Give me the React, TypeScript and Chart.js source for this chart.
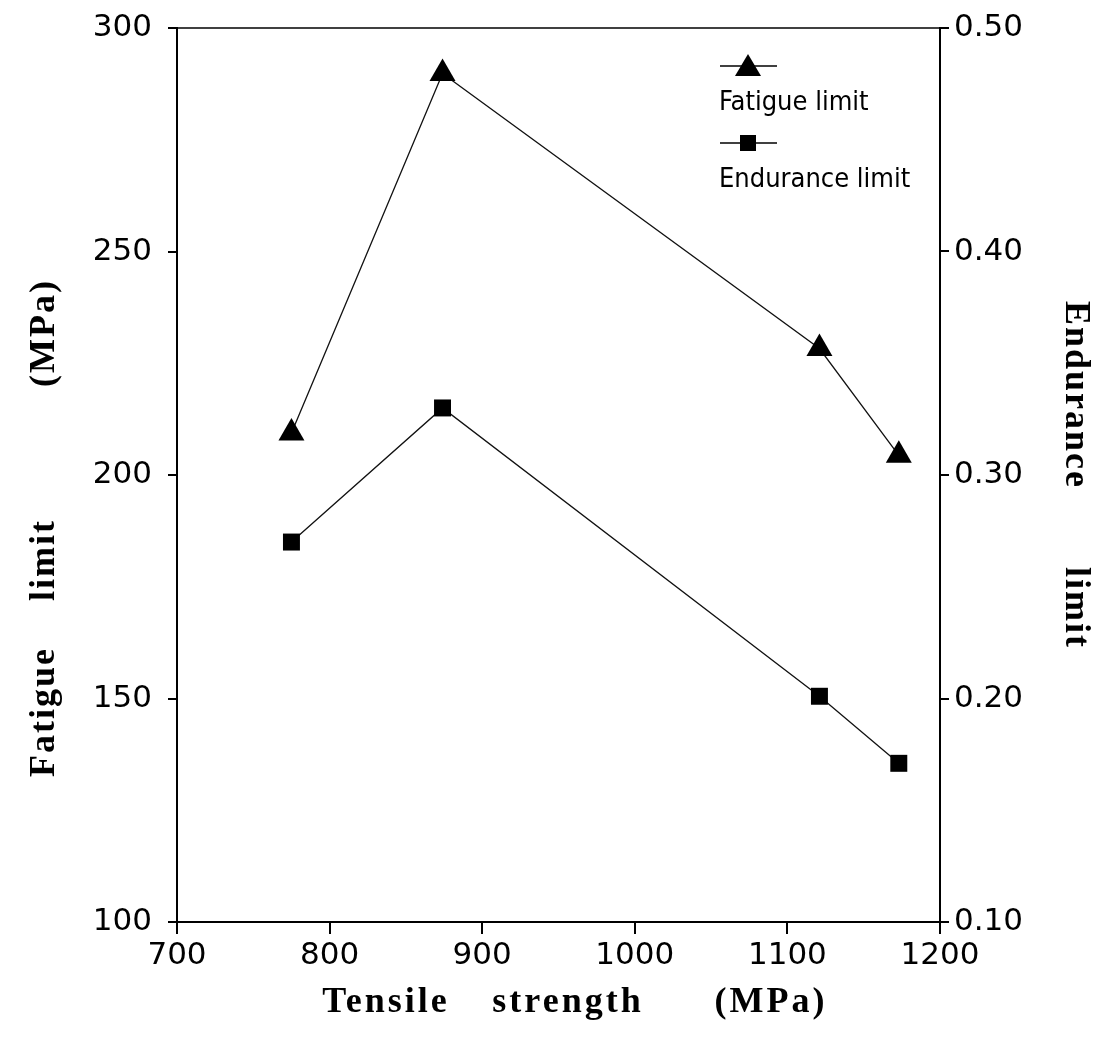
import React, { useEffect, useRef } from "react";
import { Chart, registerables } from "chart.js";

Chart.register(...registerables);

const tensileStrength = [775, 874, 1121, 1173];
const fatigueLimit = [209.4, 289.8, 228.3, 204.4];
const enduranceLimit = [0.27, 0.33, 0.201, 0.171];
const xTitleWords = ["Tensile", "strength", "(MPa)"];
const yLeftTitleWords = ["Fatigue", "limit", "(MPa)"];
const yRightTitleWords = ["Endurance", "limit"];
const legendLabels = ["Fatigue limit", "Endurance limit"];

const tickFont = { family: "DejaVu Sans", size: 31 };

// centres of the title words along their axis (px)
const xTitleCentres = [386, 568, 771];
const leftTitleCentres = [712, 560, 333];
const rightTitleCentres = [395, 608];

const decorPlugin = {
  id: "decor",
  afterDraw(chart: any) {
    const ctx = chart.ctx as CanvasRenderingContext2D;
    const ca = chart.chartArea;
    ctx.save();
    ctx.strokeStyle = "#000";
    ctx.lineWidth = 1.5;
    ctx.beginPath();
    ctx.moveTo(ca.left, ca.top);
    ctx.lineTo(ca.right, ca.top);
    ctx.stroke();

    ctx.fillStyle = "#000";
    ctx.font = "bold 36px 'Liberation Serif'";
    ctx.textAlign = "center";
    ctx.textBaseline = "middle";
    (ctx as any).letterSpacing = "3px";
    xTitleWords.forEach((w, i) => ctx.fillText(w, xTitleCentres[i], 1003));
    (ctx as any).letterSpacing = "2px";

    ctx.save();
    ctx.translate(45, 0);
    ctx.rotate(-Math.PI / 2);
    yLeftTitleWords.forEach((w, i) => ctx.fillText(w, -leftTitleCentres[i], 0));
    ctx.restore();

    ctx.save();
    ctx.translate(1075, 0);
    ctx.rotate(Math.PI / 2);
    yRightTitleWords.forEach((w, i) => ctx.fillText(w, rightTitleCentres[i], 0));
    ctx.restore();

    (ctx as any).letterSpacing = "0px";
    ctx.lineWidth = 1.5;
    const lx0 = 720, lx1 = 777, mx = 748;
    const rows = [66, 143];
    rows.forEach((y, i) => {
      ctx.beginPath();
      ctx.moveTo(lx0, y);
      ctx.lineTo(lx1, y);
      ctx.stroke();
      ctx.beginPath();
      if (i === 0) {
        ctx.moveTo(mx, y - 12);
        ctx.lineTo(mx + 13, y + 10);
        ctx.lineTo(mx - 13, y + 10);
        ctx.closePath();
      } else {
        ctx.rect(mx - 8, y - 8, 16, 16);
      }
      ctx.fill();
    });
    ctx.font = "27px 'DejaVu Sans Condensed'";
    ctx.textAlign = "left";
    ctx.textBaseline = "alphabetic";
    ctx.fillText(legendLabels[0], 719, 110);
    ctx.fillText(legendLabels[1], 719, 187);
    ctx.restore();
  },
};

export default function App() {
  const ref = useRef<HTMLCanvasElement>(null);
  useEffect(() => {
    if (!ref.current) return;
    const chart = new Chart(ref.current, {
      type: "line",
      data: {
        datasets: [
          {
            label: legendLabels[0],
            data: tensileStrength.map((x, i) => ({ x, y: fatigueLimit[i] })),
            yAxisID: "y",
            borderColor: "#111",
            borderWidth: 1.3,
            pointStyle: "triangle",
            pointRadius: 15,
            pointBackgroundColor: "#000",
            pointBorderColor: "#000",
            pointBorderWidth: 0,
          },
          {
            label: legendLabels[1],
            data: tensileStrength.map((x, i) => ({ x, y: enduranceLimit[i] })),
            yAxisID: "y1",
            borderColor: "#111",
            borderWidth: 1.3,
            pointStyle: "rect",
            pointRadius: 12,
            pointBackgroundColor: "#000",
            pointBorderColor: "#000",
            pointBorderWidth: 0,
          },
        ],
      },
      options: {
        animation: false,
        responsive: true,
        maintainAspectRatio: false,
        layout: { padding: { top: 28, left: 0, right: 0, bottom: 0 } },
        plugins: { legend: { display: false }, tooltip: { enabled: false } },
        scales: {
          x: {
            type: "linear",
            min: 700,
            max: 1200,
            ticks: {
              stepSize: 100,
              font: tickFont,
              color: "#000",
              padding: 3,
              maxRotation: 0,
              callback: (v: any) => String(v),
            },
            grid: { drawOnChartArea: false, tickLength: 12, color: "#000", lineWidth: 2 },
            border: { color: "#000", width: 2 },
            afterFit: (s: any) => { s.height = 127; s.paddingLeft = 0; s.paddingRight = 0; },
          },
          y: {
            position: "left",
            min: 100,
            max: 300,
            ticks: { stepSize: 50, font: tickFont, color: "#000", padding: 16, callback: (v: any) => String(v) },
            grid: { drawOnChartArea: false, tickLength: 9, color: "#000", lineWidth: 2 },
            border: { color: "#000", width: 2 },
            afterFit: (s: any) => { s.width = 177; s.paddingTop = 0; s.paddingBottom = 0; },
          },
          y1: {
            position: "right",
            min: 0.1,
            max: 0.5,
            ticks: {
              stepSize: 0.1,
              font: tickFont,
              color: "#000",
              padding: 5,
              callback: (v: any) => Number(v).toFixed(2),
            },
            grid: { drawOnChartArea: false, tickLength: 9, color: "#000", lineWidth: 2 },
            border: { color: "#000", width: 2 },
            afterFit: (s: any) => { s.width = 174; s.paddingTop = 0; s.paddingBottom = 0; },
          },
        },
      },
      plugins: [decorPlugin],
    });
    return () => chart.destroy();
  }, []);
  return (
    <div style={{ position: "absolute", left: 0, top: 0, width: 1114, height: 1049, background: "#fff" }}>
      <canvas ref={ref} />
    </div>
  );
}
